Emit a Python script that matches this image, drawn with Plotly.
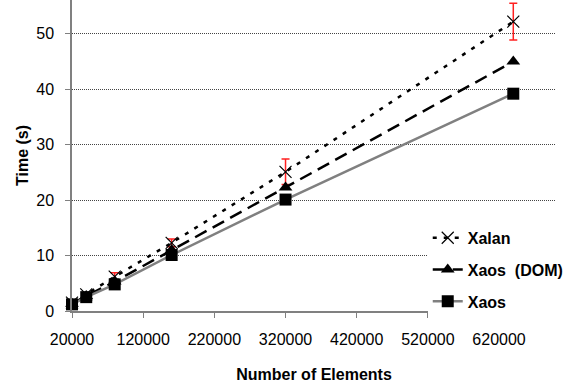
import plotly.graph_objects as go

elements = [20000, 40000, 80000, 160000, 320000, 640000]
xalan = [1.5, 3.0, 6.2, 12.3, 25.1, 52.2]
xalan_err = [0.2, 0.3, 0.7, 0.7, 2.3, 3.3]
xaos_dom = [1.3, 2.7, 5.3, 11.0, 22.3, 45.0]
xaos = [1.2, 2.5, 4.8, 10.1, 20.1, 39.2]

x_ticks = [20000, 120000, 220000, 320000, 420000, 520000, 620000]
y_ticks = [0, 10, 20, 30, 40, 50]

FONT = "Liberation Sans, Arial, sans-serif"

fig = go.Figure()

fig.add_trace(go.Scatter(
    x=elements, y=xalan, name="Xalan", mode="lines+markers",
    line=dict(color="black", width=2.5, dash="4px,7px"),
    marker=dict(symbol="x-thin", size=12, line=dict(color="black", width=1.2), color="black"),
    error_y=dict(type="data", array=xalan_err, visible=True, color="#ff2020", thickness=1.5, width=4),
    cliponaxis=False, legendgroup="a",
))
fig.add_trace(go.Scatter(
    x=elements, y=xaos_dom, name="Xaos  (DOM)", mode="lines+markers",
    line=dict(color="black", width=2.5, dash="13px,7px"),
    marker=dict(symbol="triangle-up", size=12, color="black"),
    cliponaxis=False, legendgroup="b",
))
fig.add_trace(go.Scatter(
    x=elements, y=xaos, name="Xaos", mode="lines+markers",
    line=dict(color="#808080", width=2.5),
    marker=dict(symbol="square", size=12, color="black"),
    cliponaxis=False, legendgroup="c",
))

fig.update_layout(
    width=572, height=387,
    margin=dict(l=72, r=16, t=0, b=76),
    paper_bgcolor="white", plot_bgcolor="white",
    font=dict(family=FONT, size=16, color="black"),
    showlegend=True,
    legend=dict(
        x=0.735, y=0.29, xanchor="left", yanchor="top",
        bgcolor="white", borderwidth=0,
        font=dict(family=FONT, size=16, color="black", weight="bold"),
        tracegroupgap=8,
    ),
    xaxis=dict(
        range=[20000, 700000],
        tickmode="array", tickvals=x_ticks, ticktext=[str(v) for v in x_ticks],
        showgrid=False, zeroline=False,
        showline=True, linecolor="#808080", linewidth=1.5,
        ticks="outside", ticklen=5, tickcolor="#808080", tickwidth=1,
        tickfont=dict(family=FONT, size=16),
        ticklabelstandoff=8,
        title=dict(text="Number of Elements", font=dict(family=FONT, size=16, weight="bold"), standoff=22),
    ),
    yaxis=dict(
        range=[0, 56.1],
        tickmode="array", tickvals=y_ticks, ticktext=[str(v) for v in y_ticks],
        showgrid=True, gridcolor="#444444", griddash="1px,1px", gridwidth=1,
        zeroline=False,
        showline=True, linecolor="#808080", linewidth=1.5,
        ticks="outside", ticklen=5, tickcolor="#808080", tickwidth=1,
        tickfont=dict(family=FONT, size=16),
        ticklabelstandoff=8,
        title=dict(text="Time (s)", font=dict(family=FONT, size=16, weight="bold"), standoff=4),
    ),
)

fig.write_html("out.html")
